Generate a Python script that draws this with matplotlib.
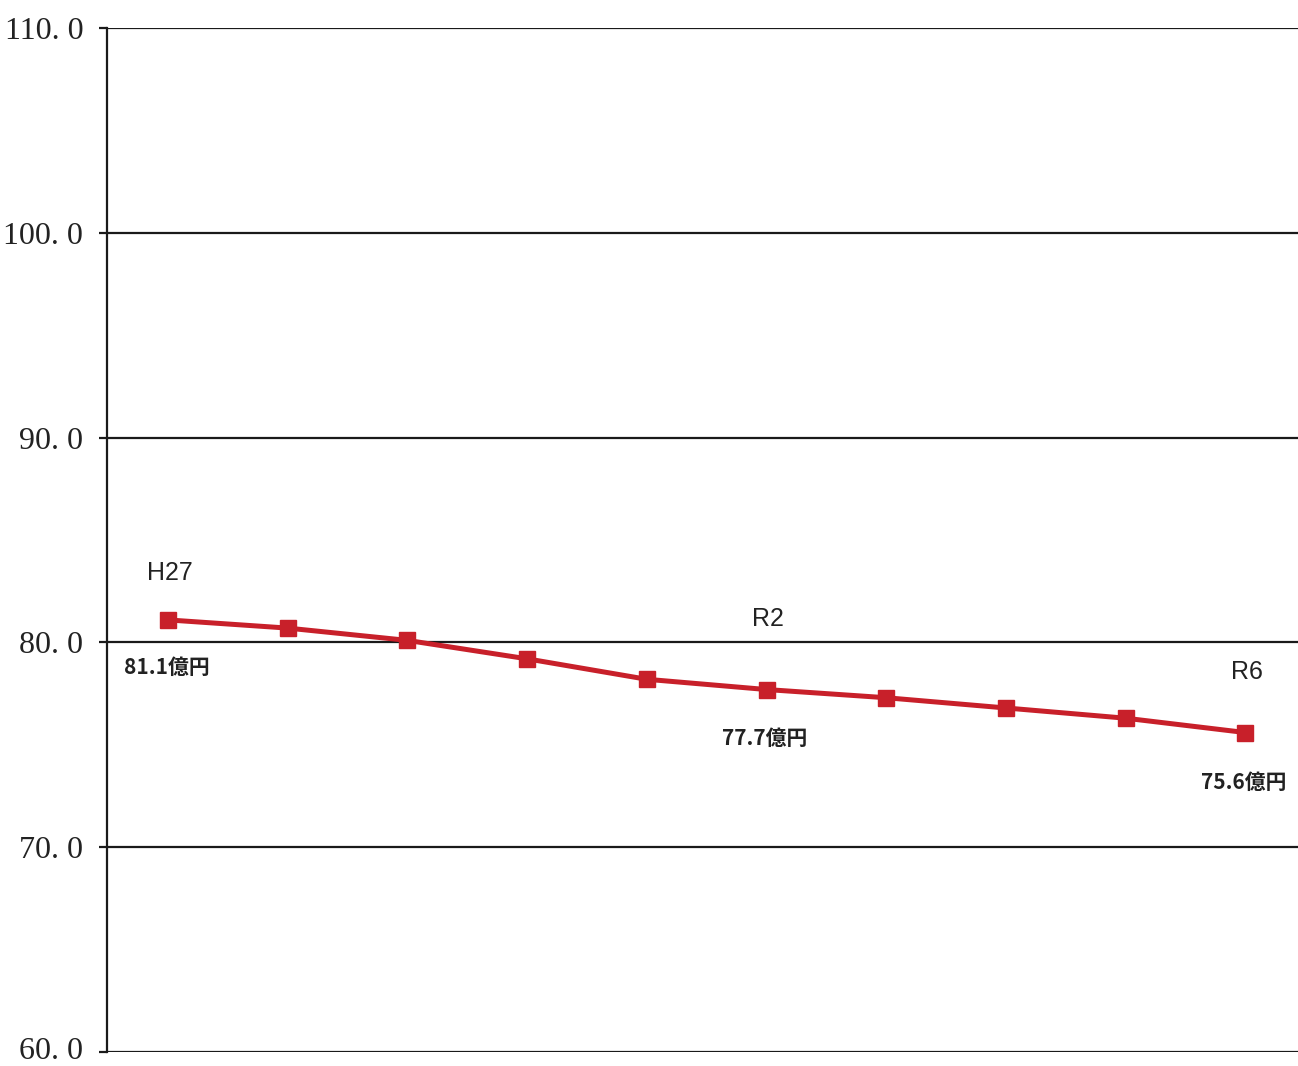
import matplotlib
matplotlib.use("Agg")
from matplotlib import pyplot as plt
from matplotlib.transforms import ScaledTranslation

# 年度ごとの値（億円）
years = ["H27", "H28", "H29", "H30", "R1", "R2", "R3", "R4", "R5", "R6"]
values = [81.1, 80.7, 80.1, 79.2, 78.2, 77.7, 77.3, 76.8, 76.3, 75.6]
yticks = [60.0, 70.0, 80.0, 90.0, 100.0, 110.0]

# 注記する年度: (年度ラベルの上オフセット, 値ラベルの下オフセット) in px
notes = {"H27": (47, 48), "R2": (71, 49), "R6": (61, 50)}

plt.rcParams["font.family"] = ["Noto Sans CJK JP", "DejaVu Sans"]

fig = plt.figure(figsize=(12.98, 10.66), dpi=100)
ax = fig.add_axes([0.0824, 0.0131, 1.0 - 0.0824, 0.9737 - 0.0131])

x = list(range(len(years)))
ax.plot(x, values, color="#c8202a", linewidth=3.6, marker="s",
        markersize=11.5, markerfacecolor="#c8202a", markeredgecolor="#c8202a",
        zorder=3)

ax.set_ylim(60, 110)
ax.set_xlim(-0.51, 9.44)
ax.set_yticks(yticks)
ax.set_yticklabels(["%.0f. 0" % v for v in yticks], family="Liberation Serif",
                   fontsize=23, color="#222222")
ax.tick_params(axis="y", length=6, width=1.6, color="#1a1a1a", pad=11)
ax.set_xticks([])

# bottom label sits right on the edge, nudge it up a little
lbl = ax.get_yticklabels()[0]
lbl.set_transform(lbl.get_transform() +
                  ScaledTranslation(0, 4 / 100, fig.dpi_scale_trans))

for v in yticks:
    ax.axhline(v, color="#1a1a1a", linewidth=1.6, zorder=1)

for s in ["top", "right", "bottom"]:
    ax.spines[s].set_visible(False)
ax.spines["left"].set_color("#1a1a1a")
ax.spines["left"].set_linewidth(1.6)

px2pt = 72 / 100
for name, (up, down) in notes.items():
    i = years.index(name)
    ax.annotate(name, (i, values[i]), xytext=(1, up * px2pt),
                textcoords="offset points", ha="center", va="center",
                fontsize=18, family="Liberation Sans", color="#222222")
    ax.annotate("%.1f億円" % values[i], (i, values[i]),
                xytext=(-1, -down * px2pt), textcoords="offset points",
                ha="center", va="center", fontsize=15, fontweight="bold",
                color="#222222")

fig.savefig("out.png", dpi=100)
